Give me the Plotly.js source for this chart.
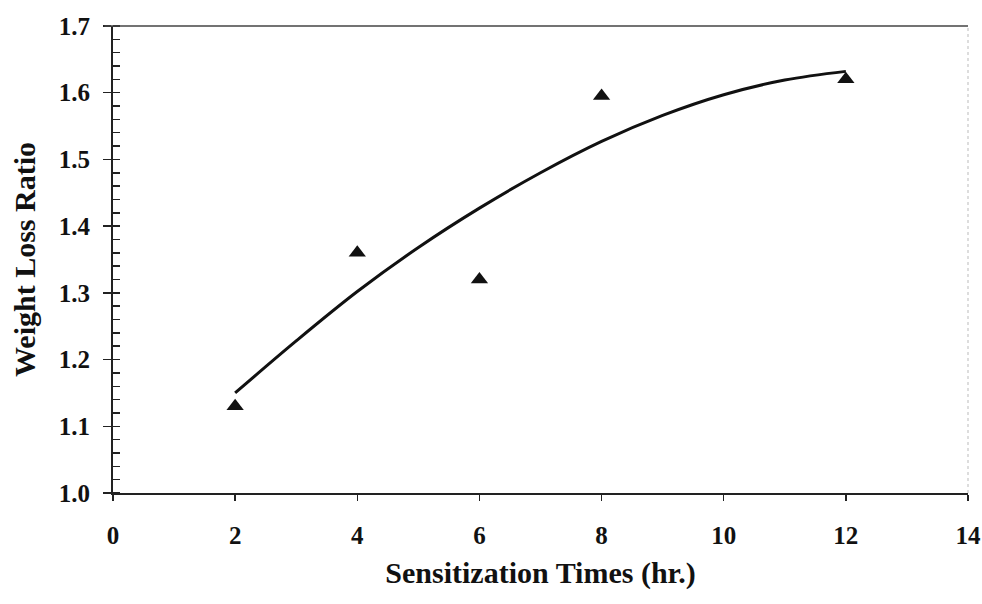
<!DOCTYPE html>
<html>
<head>
<meta charset="utf-8">
<script src="https://cdn.plot.ly/plotly-3.0.1.min.js"></script>
<style>html,body{margin:0;padding:0;background:#fff;}#chart{width:982px;height:604px;}</style>
</head>
<body>
<div id="chart"></div>
<script>
// Measured points
var timesHr = [2, 4, 6, 8, 12];
var weightLossRatio = [1.13, 1.36, 1.32, 1.595, 1.62];
// Trend curve
var trendX = [2, 3, 4, 5, 6, 7, 8, 9, 10, 11, 12];
var trendY = [1.15, 1.228, 1.302, 1.368, 1.427, 1.48, 1.527, 1.566, 1.597, 1.619, 1.632];
var xTicks = [0, 2, 4, 6, 8, 10, 12, 14];
var yTicks = [1.0, 1.1, 1.2, 1.3, 1.4, 1.5, 1.6, 1.7];
var yTickText = ['1.0', '1.1', '1.2', '1.3', '1.4', '1.5', '1.6', '1.7'];

var font = 'Liberation Serif, Times New Roman, serif';

var traces = [
  {x: trendX, y: trendY, mode: 'lines', type: 'scatter', line: {color: '#111', width: 3, shape: 'spline'}, hoverinfo: 'skip'},
  {x: timesHr, y: weightLossRatio, mode: 'markers', type: 'scatter', marker: {symbol: 'triangle-up', size: 15, color: '#111'}}
];

var layout = {
  width: 982, height: 604,
  margin: {l: 113, r: 14, t: 26, b: 111},
  paper_bgcolor: '#fff', plot_bgcolor: '#fff',
  showlegend: false,
  font: {family: font, color: '#111', size: 18},
  xaxis: {
    range: [0, 14], tickvals: xTicks, ticktext: xTicks.map(String),
    showgrid: false, zeroline: false, showline: true, linecolor: '#222', linewidth: 2,
    ticks: 'outside', ticklen: 6, tickwidth: 1.5, tickcolor: '#222',
    ticklabelstandoff: 13,
    tickfont: {family: font, size: 25, color: '#111', weight: 'bold'},
    title: {text: 'Sensitization Times (hr.)', font: {family: font, size: 30, color: '#111', weight: 'bold'}, standoff: 14}
  },
  yaxis: {
    range: [1.0, 1.7], tickvals: yTicks, ticktext: yTickText,
    showgrid: false, zeroline: false, showline: true, linecolor: '#222', linewidth: 2,
    ticks: 'outside', ticklen: 8, tickwidth: 1.5, tickcolor: '#222',
    ticklabelstandoff: 8,
    minor: {dtick: 0.02, ticks: 'inside', ticklen: 7, tickwidth: 1.5, tickcolor: '#222', showgrid: false},
    tickfont: {family: font, size: 25, color: '#111', weight: 'bold'},
    title: {text: 'Weight Loss Ratio', font: {family: font, size: 30, color: '#111', weight: 'bold'}, standoff: 14}
  },
  yaxis2: {
    overlaying: 'y', side: 'left', range: [1.0, 1.7], tickvals: yTicks,
    showgrid: false, zeroline: false, showline: false, showticklabels: false,
    ticks: 'inside', ticklen: 7, tickwidth: 1.5, tickcolor: '#222'
  },
  shapes: [
    {type: 'line', xref: 'paper', yref: 'paper', x0: -0.01, x1: 1, y0: 1, y1: 1, line: {color: '#444', width: 1.5}},
    {type: 'line', xref: 'paper', yref: 'paper', x0: 1, x1: 1, y0: 0, y1: 1, line: {color: '#bbb', width: 1, dash: 'dot'}}
  ]
};

traces.push({x: [0], y: [1.0], yaxis: 'y2', mode: 'markers', marker: {opacity: 0}, hoverinfo: 'skip'});

Plotly.newPlot('chart', traces, layout, {displayModeBar: false, staticPlot: true});
</script>
</body>
</html>
